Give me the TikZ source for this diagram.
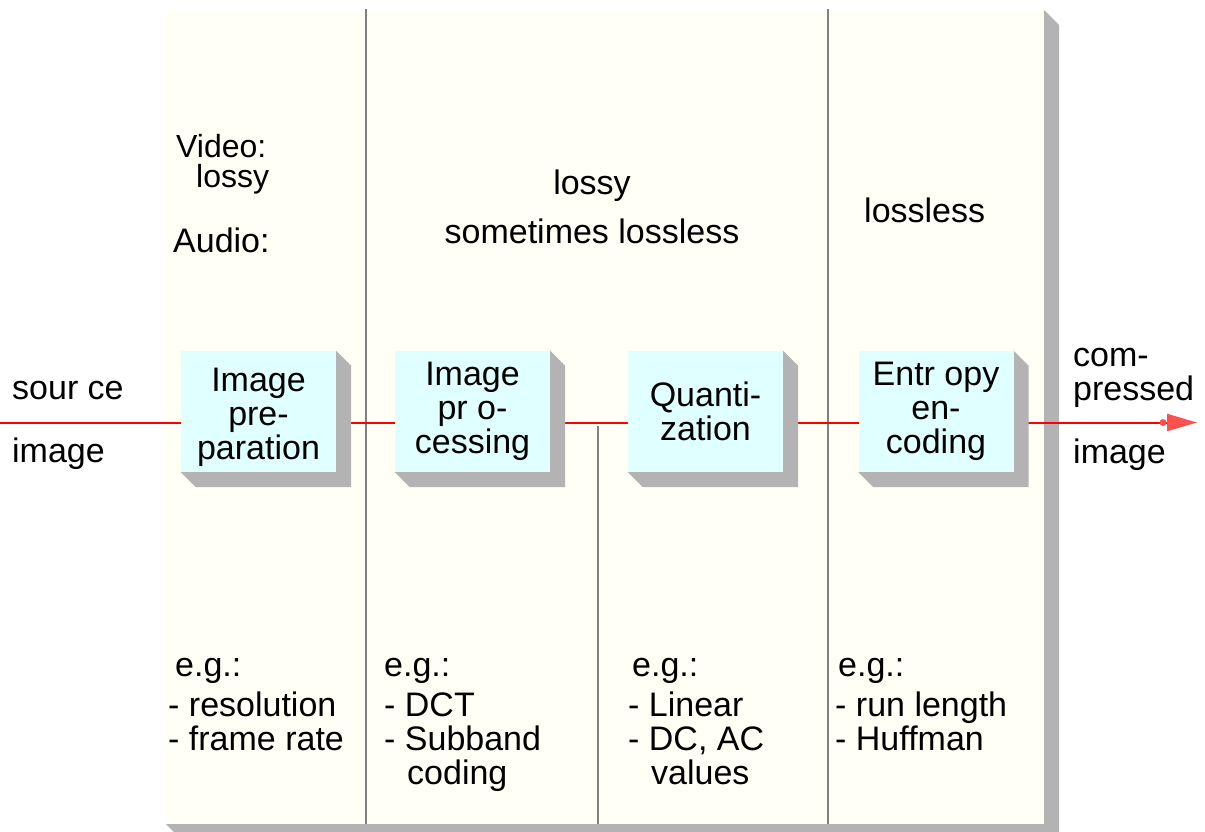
\documentclass[tikz,border=0pt]{standalone}
\usepackage{fontspec}
\setmainfont{Liberation Sans}
\usetikzlibrary{arrows.meta}
\pgfdeclarelayer{back}
\pgfdeclarelayer{shade}
\pgfsetlayers{back,shade,main}
\definecolor{panel}{RGB}{255,255,246}
\definecolor{boxfill}{RGB}{224,255,255}
\definecolor{shadowgray}{RGB}{179,179,179}
\definecolor{rulegray}{RGB}{128,128,128}
\definecolor{flow}{RGB}{255,0,0}
\definecolor{tipred}{RGB}{255,80,80}
\newcommand\diagfont{\fontsize{34}{34}\selectfont}
\newcommand\notefont{\fontsize{32}{32}\selectfont}
% beveled drop shadow behind a named stage box
\newcommand\stageshadow[1]{%
  \fill[shadowgray] (#1.north east) -- ([shift={(15,15)}]#1.north east)
    -- ([shift={(15,15)}]#1.south east) -- ([shift={(15,15)}]#1.south west)
    -- (#1.south west) -- cycle;}
\begin{document}
\begin{tikzpicture}[x=1pt,y=-1pt,
  stage/.style={fill=boxfill, minimum width=155pt, minimum height=121pt,
    inner sep=0pt, align=center, font=\diagfont},
  stagetext/.style={inner sep=0pt, align=center, font=\diagfont},
  txt/.style={anchor=base west, inner sep=0pt, font=\diagfont},
  note/.style={txt, font=\notefont},
  ctxt/.style={anchor=base, inner sep=0pt, font=\diagfont},
  divider/.style={draw=rulegray, line width=2pt},
  flowline/.style={draw=flow, line width=2pt,
    -{Triangle[length=30pt,width=17pt,color=tipred]}}]
\useasboundingbox (0,0) rectangle (1205,831);

% panel with its shadow, column rules and the signal path
\begin{pgfonlayer}{back}
  \fill[shadowgray] (166,824) -- (181,839) -- (1059,839) -- (1059,25) -- (1044,10) -- cycle;
  \fill[panel] (166,10) rectangle (1044,824);
  \draw[divider] (366,9) -- (366,824);
  \draw[divider] (828,9) -- (828,824);
  \draw[divider] (598,426) -- (598,824);
  \coordinate (src) at (0,422.5);
  \coordinate (dst) at (1197,422.5);
  \draw[flowline] (src) -- (dst);
  \fill[tipred] (1163,422.5) circle (3.5);
\end{pgfonlayer}

% processing stages
\node[stage] (prep)  at (258.5,411.5) {};
\node[stagetext] (prepT) at ([yshift=-6pt]prep.center) {Image\\pre-\\paration};
\node[stage] (proc)  at (472.5,411.5) {Image\\pr o-\\cessing};
\node[stage] (quant) at (705.5,411.5) {Quanti-\\zation};
\node[stage] (entr)  at (936,411.5)   {Entr opy\\en-\\coding};
\begin{pgfonlayer}{shade}
  \foreach \n in {prep,proc,quant,entr}{\stageshadow{\n}}
\end{pgfonlayer}

% input and output labels
\node[txt] (srcA) at (12,399) {sour ce};
\node[txt] (srcB) at (12,462) {image};
\node[txt] (outA) at (1073,366) {com-};
\node[txt] (outB) at (1073,400) {pressed};
\node[txt] (outC) at (1073,463) {image};

% loss characteristics
\node[note] (vid)  at (176,157) {Video:};
\node[note] (vidl) at (196,187) {lossy};
\node[txt] (aud)  at (173,252) {Audio:};
\node[ctxt] (lossyA) at (592,194) {lossy};
\node[ctxt] (lossyB) at (592,243) {sometimes lossless};
\node[txt] (lossless) at (864,222) {lossless};

% examples per stage
\node[txt] (egA) at (175,676) {e.g.:};
\node[txt] (a1)  at (168,716) {- resolution};
\node[txt] (a2)  at (168,750) {- frame rate};

\node[txt] (egB) at (384,676) {e.g.:};
\node[txt] (b1)  at (384,716) {- DCT};
\node[txt] (b2)  at (384,750) {- Subband};
\node[txt] (b3)  at (407,784) {coding};

\node[txt] (egC) at (632,676) {e.g.:};
\node[txt] (c1)  at (628,716) {- Linear};
\node[txt] (c2)  at (628,750) {- DC, AC};
\node[txt] (c3)  at (651,784) {values};

\node[txt] (egD) at (838,676) {e.g.:};
\node[txt] (d1)  at (835,716) {- run length};
\node[txt] (d2)  at (835,750) {- Huffman};
\end{tikzpicture}
\end{document}
